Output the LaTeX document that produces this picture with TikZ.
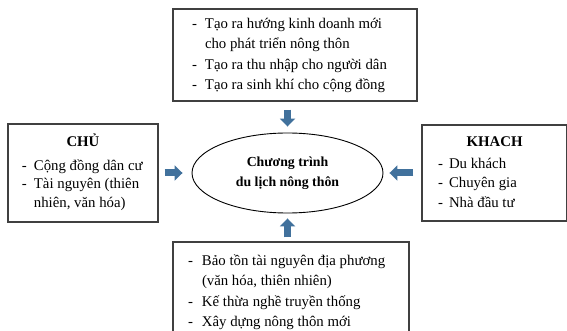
\documentclass[tikz,border=0pt]{standalone}
\usepackage{fontspec}
\setmainfont{Liberation Serif}
\usepackage{array}
\usepackage{tikz}
\usetikzlibrary{positioning,shapes.geometric,arrows.meta}
\definecolor{arrowblue}{RGB}{65,113,156}

\begin{document}
\begin{tikzpicture}[
    x=1pt, y=1pt,
    node distance=30pt,
    font=\fontsize{14.8}{20.5}\selectfont,
    group/.style={
		rectangle,
		draw=black!75,
		line width=1.2pt,
		inner ysep=0pt,
		fill=white
	},
	core/.style={
		ellipse,
		draw=black,
		line width=0.9pt,
		minimum width=191pt,
		minimum height=80pt,
		inner sep=0pt,
		align=center,
		font=\bfseries\fontsize{13.8}{20}\selectfont
	},
	push/.style={
		draw=arrowblue,
		line width=7pt,
		-{Triangle[length=8pt,width=15pt]}
	}
  ]
  \useasboundingbox (0,0) rectangle (567,-331);

    % We start by placing the blocks
  \node [core] (program) at (287.5,-173) {Chương trình\\du lịch nông thôn};

  \node [group, minimum height=92pt, inner xsep=19pt, above=31pt of program, xshift=7.5pt] (goal)
 {%
 \begin{tabular}{@{}p{13pt}@{}p{193pt}@{}}
  - & Tạo ra hướng kinh doanh mới\\
    & cho phát triển  nông thôn\\
  - & Tạo ra thu nhập cho người dân\\
  - & Tạo ra sinh khí cho cộng đồng
 \end{tabular}
 };

  \node [group, minimum height=98pt, inner xsep=14pt, left=33pt of program] (owner)
 {%
 \renewcommand{\arraystretch}{0.9}%
 \begin{tabular}{@{}p{12pt}@{}l@{}}
  \multicolumn{2}{@{}c@{}}{\makebox[122pt]{\textbf{CHỦ}}}\\[6pt]
  - & Cộng đồng dân cư\\
  - & Tài nguyên (thiên\\
    & nhiên, văn hóa)
 \end{tabular}
 };

  \node [group, minimum height=96pt, inner xsep=16pt, right=38pt of program] (guest)
 {%
 \renewcommand{\arraystretch}{0.95}%
 \begin{tabular}{@{}p{11pt}@{}l@{}}
  \multicolumn{2}{@{}c@{}}{\makebox[113pt]{\textbf{KHACH}}}\\[2pt]
  - & Du khách\\
  - & Chuyên gia\\
  - & Nhà đầu tư
 \end{tabular}
 };

  \node [group, minimum height=100pt, inner xsep=15pt, below=28pt of program, xshift=3.5pt] (value)
 {%
 \begin{tabular}{@{}p{14pt}@{}p{192pt}@{}}
  - & Bảo tồn tài nguyên địa phương\\
    & (văn hóa,  thiên nhiên)\\
  - & Kế thừa nghề truyền thống\\
  - & Xây dựng nông thôn mới
 \end{tabular}
 };

 % block arrows towards the program
 \draw [push, shorten <=8pt, shorten >=6pt] (goal.south -| program) -- (program.north);
 \draw [push, shorten <=6pt, shorten >=9pt] (owner.east) -- (program.west);
 \draw [push, shorten <=8pt, shorten >=6pt] (guest.west) -- (program.east);
 \draw [push, shorten <=4pt, shorten >=5pt] (value.north -| program) -- (program.south);

\end{tikzpicture}
\end{document}
